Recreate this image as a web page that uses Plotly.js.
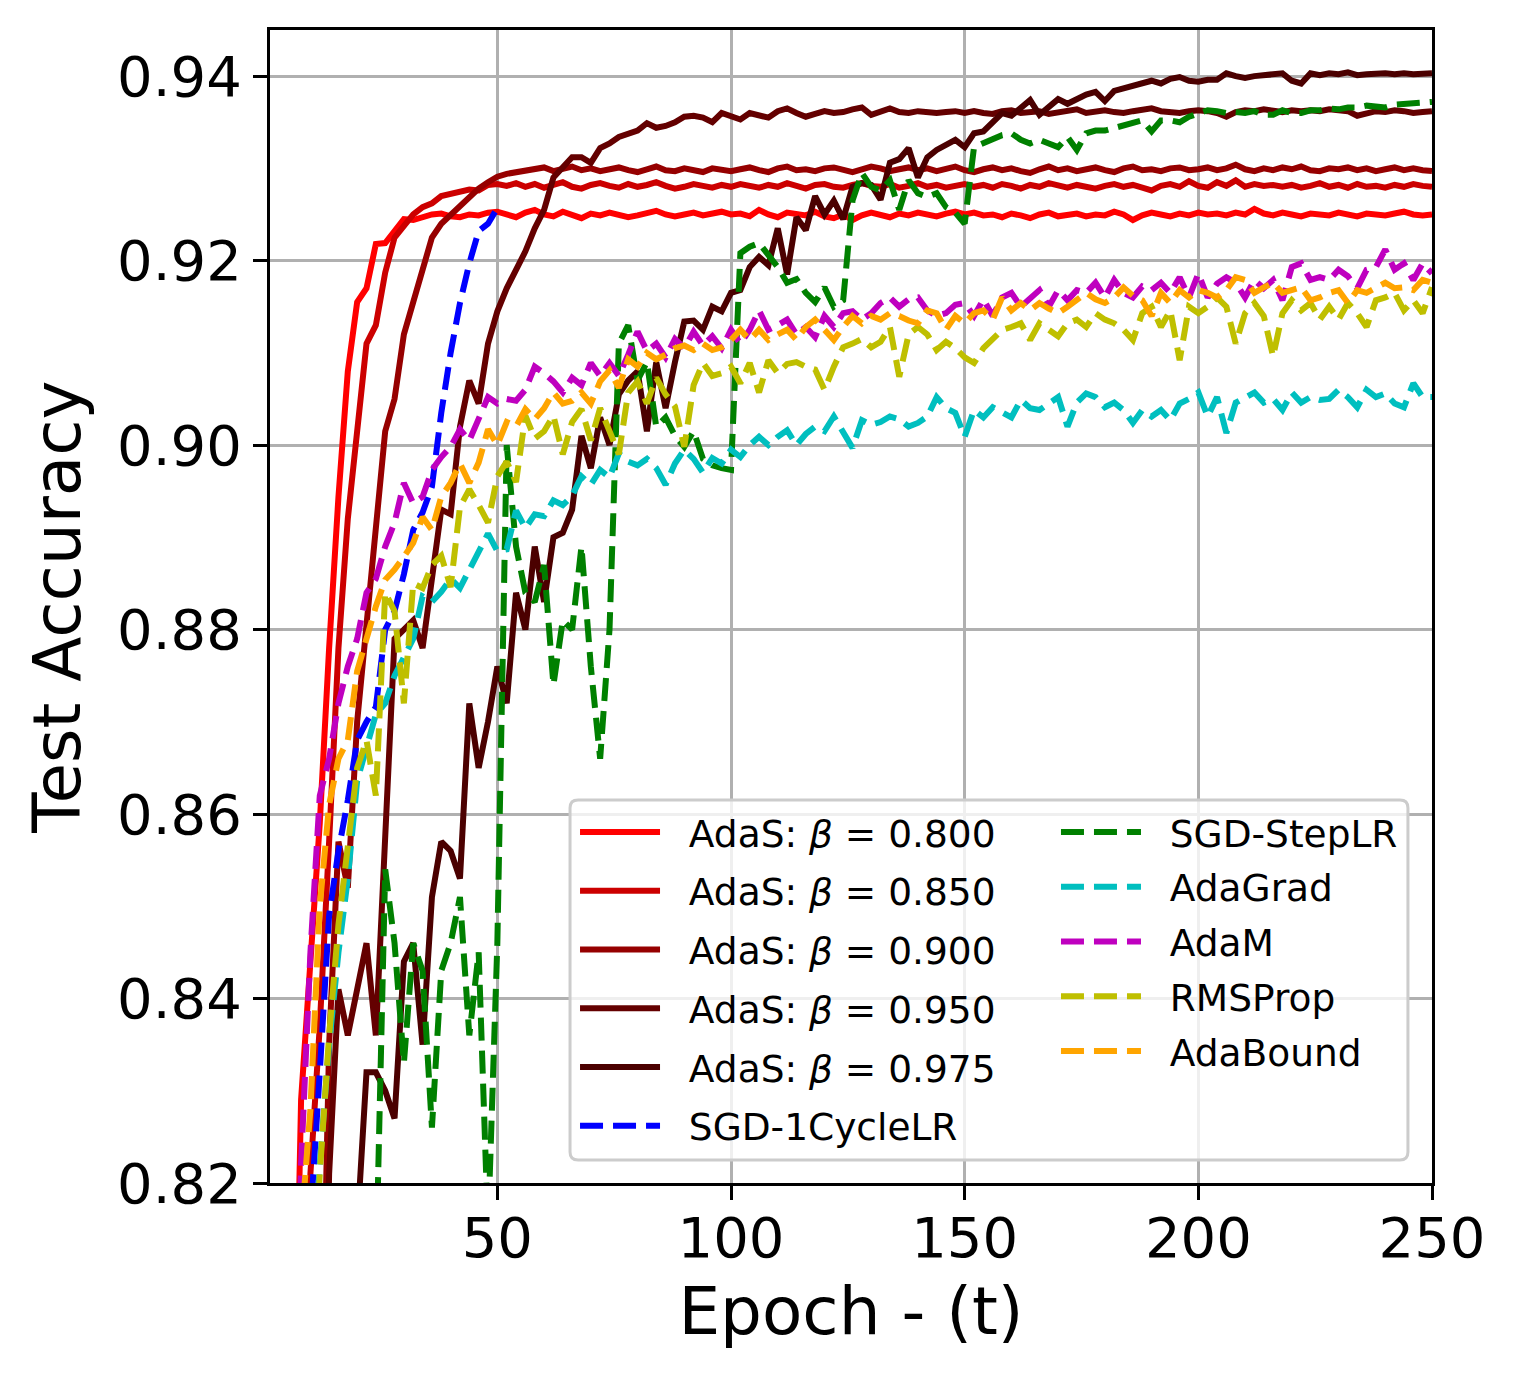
<!DOCTYPE html>
<html>
<head>
<meta charset="utf-8">
<script src="https://cdn.plot.ly/plotly-3.0.1.min.js"></script>
<style>
  html, body { margin: 0; padding: 0; background: #ffffff; }
  #chart { width: 1517px; height: 1381px; }
</style>
</head>
<body>
<div id="chart"></div>
<script>
// Epochs sampled every 2 epochs (2, 4, ..., 250)
const epochs = Array.from({length: 125}, (_, i) => 2 * (i + 1));

const seriesNames = [
  "AdaS: <i>β</i> = 0.800", "AdaS: <i>β</i> = 0.850", "AdaS: <i>β</i> = 0.900",
  "AdaS: <i>β</i> = 0.950", "AdaS: <i>β</i> = 0.975", "SGD-1CycleLR",
  "SGD-StepLR", "AdaGrad", "AdaM", "RMSProp", "AdaBound"
];

const adas080 = [
  0.600,0.700,0.780,0.829,0.843,0.859,0.878,0.8944,0.908,0.9155,0.9170,0.9218,0.9219,0.9232,0.9245,0.9244,0.9247,0.9250,0.9251,0.9248,0.9247,0.9250,0.9249,0.9252,0.9253,
  0.9250,0.9247,0.9252,0.9255,0.9250,0.9248,0.9253,0.9250,0.9246,0.9251,0.9249,0.9252,0.9250,0.9247,0.9249,0.9251,0.9254,0.9250,0.9248,0.9250,0.9252,0.9249,0.9251,0.9253,0.9250,
  0.9251,0.9248,0.9255,0.9250,0.9247,0.9252,0.9250,0.9249,0.9253,0.9248,0.9246,0.9250,0.9244,0.9249,0.9252,0.9250,0.9247,0.9251,0.9249,0.9252,0.9250,0.9248,0.9251,0.9253,0.9250,
  0.9252,0.9249,0.9250,0.9247,0.9251,0.9249,0.9246,0.9250,0.9252,0.9248,0.9250,0.9251,0.9248,0.9250,0.9249,0.9253,0.9250,0.9244,0.9249,0.9252,0.9250,0.9248,0.9251,0.9249,0.9252,
  0.9250,0.9251,0.9249,0.9252,0.9250,0.9256,0.9251,0.9249,0.9252,0.9250,0.9248,0.9251,0.9250,0.9249,0.9252,0.9250,0.9248,0.9251,0.9250,0.9249,0.9251,0.9253,0.9250,0.9249,0.9250
];

const adas085 = [
  0.450,0.580,0.700,0.790,0.821,0.837,0.857,0.878,0.892,0.901,0.911,0.9130,0.9187,0.9225,0.9238,0.9250,0.9258,0.9262,0.9270,0.9272,0.9275,0.9277,0.9276,0.9282,0.9283,
  0.9281,0.9284,0.9280,0.9283,0.9279,0.9282,0.9285,0.9280,0.9278,0.9282,0.9284,0.9281,0.9279,0.9283,0.9280,0.9282,0.9285,0.9281,0.9278,0.9280,0.9283,0.9281,0.9279,0.9282,0.9280,
  0.9283,0.9281,0.9279,0.9282,0.9280,0.9284,0.9281,0.9278,0.9282,0.9283,0.9280,0.9279,0.9282,0.9284,0.9281,0.9280,0.9283,0.9279,0.9281,0.9284,0.9280,0.9282,0.9279,0.9281,0.9283,
  0.9280,0.9282,0.9279,0.9283,0.9281,0.9278,0.9282,0.9280,0.9284,0.9281,0.9279,0.9282,0.9280,0.9278,0.9281,0.9283,0.9280,0.9282,0.9279,0.9276,0.9281,0.9283,0.9280,0.9286,0.9281,
  0.9279,0.9285,0.9281,0.9287,0.9280,0.9283,0.9281,0.9282,0.9280,0.9282,0.9279,0.9281,0.9284,0.9280,0.9282,0.9279,0.9283,0.9280,0.9281,0.9279,0.9282,0.9280,0.9283,0.9281,0.9280
];

const adas090 = [
  0.350,0.500,0.600,0.680,0.740,0.790,0.835,0.857,0.852,0.870,0.881,0.891,0.9015,0.905,0.9120,0.9155,0.9190,0.9225,0.9240,0.9250,0.9260,0.9268,0.9278,0.9285,0.9291,
  0.9294,0.9296,0.9298,0.9300,0.9301,0.9297,0.9299,0.9302,0.9298,0.9300,0.9297,0.9299,0.9301,0.9298,0.9296,0.9299,0.9302,0.9298,0.9297,0.9300,0.9298,0.9296,0.9300,0.9299,0.9297,
  0.9299,0.9301,0.9298,0.9296,0.9300,0.9302,0.9298,0.9299,0.9297,0.9300,0.9301,0.9298,0.9296,0.9299,0.9302,0.9300,0.9297,0.9299,0.9301,0.9298,0.9300,0.9297,0.9299,0.9302,0.9298,
  0.9296,0.9299,0.9301,0.9298,0.9300,0.9297,0.9295,0.9299,0.9302,0.9298,0.9300,0.9297,0.9299,0.9301,0.9298,0.9296,0.9300,0.9302,0.9298,0.9299,0.9297,0.9300,0.9301,0.9298,0.9299,
  0.9301,0.9298,0.9300,0.9304,0.9299,0.9297,0.9300,0.9298,0.9301,0.9299,0.9302,0.9298,0.9297,0.9300,0.9299,0.9301,0.9298,0.9300,0.9297,0.9299,0.9301,0.9298,0.9300,0.9298,0.9297
];

const adas095 = [
  0.300,0.450,0.550,0.620,0.700,0.770,0.821,0.841,0.836,0.841,0.846,0.836,0.857,0.879,0.880,0.881,0.878,0.886,0.893,0.8925,0.902,0.907,0.9045,0.911,0.9145,
  0.9170,0.9190,0.9210,0.9235,0.9255,0.9290,0.9300,0.9312,0.9312,0.9306,0.9322,0.9327,0.9334,0.9337,0.9341,0.9349,0.9344,0.9346,0.9350,0.9356,0.9357,0.9355,0.9350,0.9360,0.9357,
  0.9353,0.9360,0.9358,0.9355,0.9362,0.9365,0.9360,0.9356,0.9359,0.9362,0.9360,0.9361,0.9364,0.9366,0.9358,0.9362,0.9365,0.9361,0.9360,0.9362,0.9361,0.9360,0.9361,0.9362,0.9360,
  0.9362,0.9360,0.9359,0.9362,0.9363,0.9360,0.9361,0.9362,0.9359,0.9361,0.9362,0.9364,0.9360,0.9362,0.9363,0.9361,0.9360,0.9362,0.9364,0.9365,0.9362,0.9361,0.9360,0.9362,0.9363,
  0.9362,0.9360,0.9356,0.9361,0.9363,0.9362,0.9364,0.9362,0.9361,0.9363,0.9362,0.9363,0.9362,0.9364,0.9363,0.9362,0.9357,0.9360,0.9362,0.9361,0.9363,0.9362,0.9360,0.9361,0.9362
];

const adas0975 = [
  0.200,0.300,0.400,0.500,0.580,0.650,0.720,0.770,0.800,0.815,0.832,0.832,0.830,0.827,0.844,0.846,0.835,0.851,0.857,0.856,0.853,0.872,0.865,0.870,0.876,
  0.872,0.884,0.880,0.889,0.883,0.890,0.8905,0.893,0.901,0.8975,0.903,0.900,0.9055,0.907,0.908,0.9015,0.909,0.904,0.909,0.9134,0.9135,0.9125,0.915,0.9145,0.9165,
  0.9168,0.9193,0.9204,0.9195,0.9235,0.9185,0.9247,0.9233,0.9270,0.9250,0.9265,0.9245,0.9280,0.9284,0.9282,0.9266,0.9306,0.9310,0.9322,0.9290,0.9312,0.9320,0.9325,0.9331,0.9323,
  0.9338,0.9340,0.9350,0.9360,0.9357,0.9365,0.9374,0.9358,0.9366,0.9375,0.9370,0.9375,0.9380,0.9383,0.9373,0.9384,0.9387,0.9389,0.9393,0.9395,0.9392,0.9397,0.9399,0.9395,0.9394,
  0.9396,0.9396,0.9403,0.9400,0.9398,0.9400,0.9401,0.9402,0.9403,0.9395,0.9392,0.9403,0.9401,0.9403,0.9402,0.9404,0.9401,0.9402,0.9403,0.9403,0.9402,0.9403,0.9402,0.9403,0.9403
];

// SGD-1CycleLR runs for 50 epochs only
const sgd1cycle = [
  0.450,0.600,0.700,0.780,0.816,0.832,0.849,0.856,0.8615,0.868,0.870,0.8716,0.880,0.882,0.886,0.8908,0.8927,0.8955,0.9035,0.910,0.9154,0.9197,0.9232,0.9240,0.9257
];

const sgdStep = [
  0.450,0.580,0.650,0.700,0.720,0.750,0.760,0.770,0.780,0.790,0.800,0.810,0.854,0.846,0.833,0.846,0.843,0.826,0.843,0.846,0.851,0.836,0.845,0.815,0.846,
  0.900,0.889,0.884,0.883,0.887,0.874,0.881,0.880,0.889,0.876,0.866,0.880,0.911,0.913,0.907,0.909,0.902,0.903,0.901,0.8998,0.9015,0.8985,0.8978,0.8975,0.8973,
  0.9208,0.9215,0.9219,0.9205,0.9193,0.9176,0.9180,0.9165,0.9155,0.9171,0.9150,0.9157,0.9265,0.9295,0.9280,0.9276,0.9287,0.9255,0.9287,0.9273,0.9269,0.9273,0.9258,0.9252,0.9240,
  0.9323,0.9327,0.9331,0.9336,0.9338,0.9331,0.9327,0.9331,0.9327,0.9323,0.9334,0.9320,0.9338,0.9341,0.9341,0.9344,0.9346,0.9350,0.9352,0.9340,0.9352,0.9352,0.9350,0.9356,0.9360,
  0.9363,0.9362,0.9360,0.9361,0.9360,0.9362,0.9358,0.9358,0.9363,0.9360,0.9360,0.9363,0.9363,0.9365,0.9364,0.9366,0.9366,0.9368,0.9367,0.9366,0.9369,0.9370,0.9370,0.9371,0.9372
];

const adaGrad = [
  0.450,0.600,0.700,0.770,0.805,0.822,0.835,0.845,0.853,0.8636,0.867,0.8708,0.872,0.875,0.877,0.879,0.8836,0.883,0.8841,0.8855,0.8845,0.8865,0.8883,0.8904,0.8885,
  0.8887,0.8929,0.8910,0.8925,0.8923,0.8940,0.8935,0.8945,0.8966,0.8957,0.8973,0.8965,0.8991,0.8982,0.8978,0.8985,0.8975,0.8957,0.8980,0.8995,0.8985,0.8970,0.8986,0.8980,0.8995,
  0.8987,0.9000,0.9009,0.9000,0.9009,0.9016,0.9000,0.9012,0.9020,0.9015,0.9031,0.9015,0.8997,0.9027,0.9022,0.9025,0.9031,0.9028,0.9020,0.9024,0.9031,0.9052,0.9040,0.9035,0.9009,
  0.9038,0.9030,0.9041,0.9035,0.9030,0.9049,0.9040,0.9038,0.9045,0.9052,0.9020,0.9046,0.9056,0.9052,0.9041,0.9046,0.9038,0.9024,0.9038,0.9031,0.9038,0.9027,0.9045,0.9050,0.9057,
  0.9031,0.9052,0.9013,0.9046,0.9052,0.9057,0.9046,0.9050,0.9038,0.9057,0.9046,0.9052,0.9049,0.9050,0.9060,0.9052,0.9041,0.9060,0.9052,0.9056,0.9045,0.9041,0.9067,0.9052,0.9052
];

const adaM = [
  0.550,0.700,0.780,0.822,0.845,0.862,0.866,0.872,0.876,0.879,0.884,0.8855,0.889,0.8916,0.8959,0.8937,0.8944,0.8973,0.8987,0.8998,0.9017,0.9005,0.9030,0.9052,0.9045,
  0.9050,0.9048,0.9060,0.9085,0.9078,0.9069,0.9057,0.9073,0.9065,0.9089,0.9075,0.9089,0.9075,0.9098,0.9123,0.9102,0.9110,0.9095,0.9115,0.9105,0.9123,0.9108,0.9118,0.9105,0.9125,
  0.9110,0.9125,0.9146,0.9125,0.9130,0.9136,0.9120,0.9128,0.9117,0.9140,0.9128,0.9143,0.9145,0.9136,0.9143,0.9154,0.9160,0.9150,0.9158,0.9160,0.9146,0.9140,0.9143,0.9152,0.9154,
  0.9140,0.9158,0.9140,0.9160,0.9165,0.9150,0.9160,0.9168,0.9150,0.9168,0.9157,0.9168,0.9165,0.9176,0.9160,0.9179,0.9165,0.9160,0.9172,0.9168,0.9176,0.9165,0.9182,0.9160,0.9186,
  0.9160,0.9175,0.9182,0.9176,0.9160,0.9179,0.9170,0.9179,0.9157,0.9193,0.9197,0.9179,0.9182,0.9179,0.9190,0.9183,0.9170,0.9190,0.9193,0.9212,0.9190,0.9197,0.9179,0.9197,0.9186
];

const rmsProp = [
  0.450,0.600,0.700,0.770,0.800,0.821,0.836,0.848,0.857,0.865,0.868,0.862,0.884,0.882,0.872,0.885,0.8845,0.887,0.888,0.8846,0.8933,0.8952,0.8935,0.8916,0.8966,
  0.8982,0.8960,0.9032,0.9007,0.9015,0.9032,0.8990,0.9025,0.9039,0.9005,0.9040,0.9015,0.8990,0.9057,0.9069,0.9045,0.9073,0.9055,0.9042,0.8998,0.9065,0.9089,0.9075,0.9078,0.9085,
  0.9067,0.9089,0.9057,0.9092,0.9078,0.9088,0.9090,0.9085,0.9082,0.9060,0.9085,0.9106,0.9110,0.9115,0.9106,0.9112,0.9128,0.9074,0.9120,0.9128,0.9120,0.9103,0.9112,0.9105,0.9095,
  0.9089,0.9105,0.9114,0.9125,0.9128,0.9132,0.9114,0.9132,0.9125,0.9118,0.9132,0.9136,0.9128,0.9143,0.9136,0.9132,0.9125,0.9114,0.9143,0.9150,0.9128,0.9146,0.9092,0.9150,0.9143,
  0.9150,0.9160,0.9150,0.9110,0.9143,0.9154,0.9140,0.9096,0.9143,0.9157,0.9146,0.9154,0.9136,0.9150,0.9136,0.9154,0.9143,0.9128,0.9157,0.9160,0.9165,0.9146,0.9157,0.9143,0.9171
];

const adaBound = [
  0.500,0.650,0.750,0.815,0.828,0.850,0.861,0.866,0.868,0.8755,0.879,0.8825,0.8854,0.8865,0.8879,0.8894,0.8922,0.8908,0.8944,0.8959,0.8980,0.8959,0.8981,0.9017,0.9000,
  0.9025,0.9020,0.9039,0.9028,0.9040,0.9057,0.9045,0.9048,0.9057,0.9045,0.9069,0.9081,0.9062,0.9093,0.9085,0.9100,0.9093,0.9098,0.9105,0.9108,0.9103,0.9110,0.9103,0.9106,0.9114,
  0.9125,0.9114,0.9125,0.9114,0.9120,0.9125,0.9114,0.9128,0.9136,0.9125,0.9114,0.9128,0.9140,0.9132,0.9140,0.9136,0.9143,0.9140,0.9135,0.9132,0.9146,0.9143,0.9125,0.9140,0.9132,
  0.9143,0.9146,0.9136,0.9160,0.9146,0.9154,0.9146,0.9154,0.9148,0.9143,0.9150,0.9157,0.9165,0.9158,0.9154,0.9160,0.9171,0.9162,0.9157,0.9140,0.9165,0.9154,0.9168,0.9160,0.9168,
  0.9165,0.9160,0.9168,0.9182,0.9179,0.9165,0.9171,0.9176,0.9165,0.9168,0.9171,0.9157,0.9160,0.9165,0.9168,0.9154,0.9168,0.9165,0.9171,0.9176,0.9170,0.9171,0.9168,0.9179,0.9176
];

const xTicks = [50, 100, 150, 200, 250];
const yTicks = [0.82, 0.84, 0.86, 0.88, 0.90, 0.92, 0.94];

const seriesValues = [adas080, adas085, adas090, adas095, adas0975, sgd1cycle,
                      sgdStep, adaGrad, adaM, rmsProp, adaBound];
const seriesColors = ["#ff0000", "#cc0000", "#960000", "#640000", "#4b0000", "#0000ff",
                      "#008000", "#00bfbf", "#bf00bf", "#bfbf00", "#ffa500"];
const seriesDash = ["solid", "solid", "solid", "solid", "solid", "23px,10px",
                    "23px,10px", "23px,10px", "23px,10px", "23px,10px", "23px,10px"];

const traces = seriesValues.map((vals, i) => ({
  type: "scatter",
  mode: "lines",
  x: epochs.slice(0, vals.length),
  y: vals,
  name: "&nbsp;&nbsp;" + seriesNames[i],
  legend: i < 6 ? "legend" : "legend2",
  legendgroup: "g" + i,
  line: { color: seriesColors[i], width: 6, dash: seriesDash[i] },
  hoverinfo: "skip"
}));

const FONT = "DejaVu Sans, Liberation Sans, Arial, sans-serif";

const layout = {
  width: 1517,
  height: 1381,
  margin: { l: 270, r: 85, t: 30, b: 198 },
  paper_bgcolor: "#ffffff",
  plot_bgcolor: "#ffffff",
  font: { family: FONT, color: "#000000" },
  showlegend: true,
  xaxis: {
    range: [1.35, 250],
    tickvals: xTicks,
    ticktext: xTicks.map(String),
    tickfont: { size: 56, family: FONT, color: "#000" },
    ticks: "outside", ticklen: 14, tickwidth: 3, tickcolor: "#000",
    ticklabelstandoff: -10,
    showgrid: true, gridcolor: "#b0b0b0", gridwidth: 3,
    showline: true, linecolor: "#000", linewidth: 3, mirror: true,
    zeroline: false,
    title: { text: "Epoch - (t)", font: { size: 66, family: FONT, color: "#000" }, standoff: 19 }
  },
  yaxis: {
    range: [0.82, 0.945],
    tickvals: yTicks,
    ticktext: yTicks.map(v => v.toFixed(2)),
    tickfont: { size: 56, family: FONT, color: "#000" },
    ticks: "outside", ticklen: 14, tickwidth: 3, tickcolor: "#000",
    showgrid: true, gridcolor: "#b0b0b0", gridwidth: 3,
    showline: true, linecolor: "#000", linewidth: 3, mirror: true,
    zeroline: false,
    title: { text: "Test Accuracy", font: { size: 66, family: FONT, color: "#000" }, standoff: 16 }
  },
  legend: {
    x: 0.2625, xanchor: "left", y: 0.3313, yanchor: "top",
    bgcolor: "rgba(0,0,0,0)", borderwidth: 0,
    font: { size: 37.5, family: FONT, color: "#000" },
    itemwidth: 80, tracegroupgap: 7, traceorder: "grouped"
  },
  legend2: {
    x: 0.6764, xanchor: "left", y: 0.3313, yanchor: "top",
    bgcolor: "rgba(0,0,0,0)", borderwidth: 0,
    font: { size: 37.5, family: FONT, color: "#000" },
    itemwidth: 80, tracegroupgap: 3, traceorder: "grouped"
  },
  shapes: [{
    type: "path", xref: "paper", yref: "paper", layer: "above",
    path: "M 0.2651 0.01995 L 0.9724 0.01995 Q 0.9793 0.01995 0.9793 0.0269 L 0.9793 0.3253 Q 0.9793 0.3322 0.9724 0.3322 L 0.2651 0.3322 Q 0.2582 0.3322 0.2582 0.3253 L 0.2582 0.0269 Q 0.2582 0.01995 0.2651 0.01995 Z",
    fillcolor: "rgba(255,255,255,0.8)",
    line: { color: "#cccccc", width: 3 }
  }]
};

Plotly.newPlot("chart", traces, layout, { displayModeBar: false, staticPlot: true });
</script>
</body>
</html>
